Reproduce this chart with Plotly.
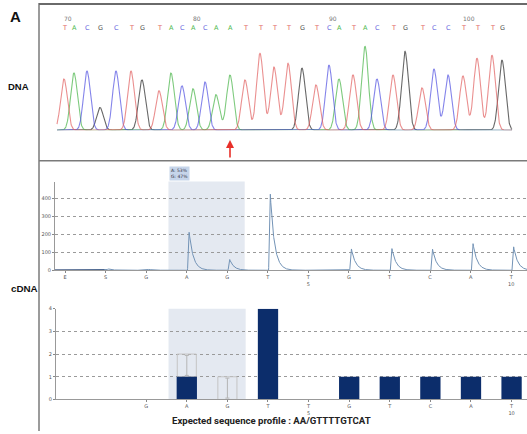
import numpy as np
import plotly.graph_objects as go

W, H = 527, 434

# ---------------- DNA chromatogram (Sanger) ----------------
bases = list("TACGCTGTACACAATTTTGTCATACTGTCCTTTG")
peak_scan = [64, 74, 87, 100, 116, 131, 142, 159, 171, 182, 193, 205, 216, 230,
             245, 260, 274, 288, 302, 316, 329, 339, 353, 365, 377, 393, 405, 422,
             434, 448, 463, 477, 492, 502]
peak_height = [52, 58, 60, 23, 60, 60, 51, 40, 58, 45, 42, 49, 36, 56,
               51, 78, 64, 68, 63, 46, 66, 52, 56, 85, 52, 56, 80, 43,
               62, 56, 55, 73, 76, 71]
position_labels = [70, 80, 90, 100]
position_label_index = [0, 10, 20, 30]
mutation_index = 13

base_colors = {"T": "rgba(225,95,95,0.7)", "A": "rgba(70,180,70,0.7)",
               "C": "rgba(80,80,225,0.7)", "G": "rgba(40,40,40,0.7)"}
letter_colors = {"T": "#e06060", "A": "#4cb84c", "C": "#6a6ae0", "G": "#555555"}

# ---------------- Pyrogram ----------------
dispensation = ["E", "S", "G", "A", "G", "T", "T", "G", "T", "C", "A", "T"]
disp_number = ["", "", "", "", "", "", "5", "", "", "", "", "10"]
pyro_signal = [0, 8, 5, 213, 60, 430, 4, 120, 120, 118, 148, 131]
pyro_ticks = [0, 100, 200, 300, 400]
allele_text = ["A: 53%", "G: 47%"]

# ---------------- Histogram (expected profile) ----------------
hist_index = [2, 3, 4, 5, 6, 7, 8, 9, 10, 11]
hist_values = [0, 1, 0, 4, 0, 1, 1, 1, 1, 1]
expected_index = [3, 4]
expected_base = [1, 0]
expected_height = [1, 1]
hist_ticks = [0, 1, 2, 3, 4]
caption = "Expected sequence profile : AA/GTTTTGTCAT"


def py(p):
    return 1 - p / H


def px(p):
    return p / W


fig = go.Figure()

# chromatogram traces
scan = np.linspace(57, 512, 2000)
sigma = 3.4
for b in ["G", "A", "C", "T"]:
    sig = np.zeros_like(scan)
    for pos, h, bb in zip(peak_scan, peak_height, bases):
        if bb == b:
            sig += h * np.exp(-((scan - pos) ** 2) / (2 * sigma ** 2))
    fig.add_trace(go.Scatter(x=scan, y=sig, mode="lines",
                             line=dict(color=base_colors[b], width=1.1),
                             xaxis="x", yaxis="y", hoverinfo="skip"))

annotations = []
for pos, b in zip(peak_scan, bases):
    annotations.append(dict(x=pos, y=py(25), xref="x", yref="paper", text=b,
                            xanchor="center", yanchor="middle",
                            showarrow=False, font=dict(size=6.5, color=letter_colors[b],
                                                        family="DejaVu Sans")))
for lab, idx in zip(position_labels, position_label_index):
    annotations.append(dict(x=peak_scan[idx] - 2, y=py(16), xref="x", yref="paper",
                            text=str(lab), showarrow=False, xanchor="left", yanchor="middle",
                            font=dict(size=6, color="#777", family="DejaVu Sans")))
# red arrow
annotations.append(dict(x=peak_scan[mutation_index], y=py(139), xref="x", yref="paper",
                        ax=0, ay=19, text="", showarrow=True, arrowhead=2,
                        arrowsize=1, arrowwidth=1.6, arrowcolor="#e8302a"))

# pyrogram curve
xs = np.linspace(-0.25, 11.39, 4000)
ys = np.zeros_like(xs)
for i, h in enumerate(pyro_signal):
    d = xs - i - 0.02
    rise = 0.04
    shape = np.where(d < 0, 0, np.where(d < rise, d / rise, np.exp(-(d - rise) / 0.1)))
    ys += h * shape
fig.add_trace(go.Scatter(x=xs, y=ys, mode="lines", line=dict(color="#7393b6", width=1),
                         xaxis="x2", yaxis="y2", hoverinfo="skip"))
fig.add_trace(go.Scatter(x=[-0.25, 0.97], y=[0, 0], mode="lines",
                         line=dict(color="#1d3566", width=1.6),
                         xaxis="x2", yaxis="y2", hoverinfo="skip"))

# histogram
fig.add_trace(go.Bar(x=expected_index, y=expected_height, base=expected_base, width=0.47,
                     marker=dict(color="rgba(0,0,0,0)", line=dict(color="#c4c4c4", width=1)),
                     xaxis="x3", yaxis="y3", hoverinfo="skip"))
fig.add_trace(go.Bar(x=hist_index, y=hist_values, width=0.5,
                     marker=dict(color="#0c2d6b", line=dict(width=0)),
                     xaxis="x3", yaxis="y3", hoverinfo="skip"))
fig.add_trace(go.Scatter(x=expected_index, y=[b + 0.5 for b in expected_base], mode="markers",
                         marker=dict(size=0.1, color="rgba(0,0,0,0)"),
                         error_y=dict(type="data", array=[0.44, 0.44], color="#b5b5b5",
                                      thickness=1, width=2),
                         xaxis="x3", yaxis="y3", hoverinfo="skip"))

tickfont = dict(size=5, color="#555", family="DejaVu Sans")

# shading + allele label
shapes = [
    dict(type="rect", xref="x2", yref="y2 domain", x0=2.55, x1=4.43, y0=0, y1=1.01,
         fillcolor="#e4e9f1", line=dict(width=0), layer="below"),
    dict(type="rect", xref="x3", yref="y3 domain", x0=2.55, x1=4.45, y0=0, y1=1,
         fillcolor="#e4e9f1", line=dict(width=0), layer="below"),
    dict(type="line", xref="paper", yref="paper", x0=px(39), x1=px(39), y0=0, y1=1,
         line=dict(color="#7a7a7a", width=1.5)),
    dict(type="line", xref="paper", yref="paper", x0=px(39), x1=1, y0=py(1), y1=py(1),
         line=dict(color="#6a6a6a", width=2)),
    dict(type="line", xref="paper", yref="paper", x0=px(39), x1=1, y0=py(160), y1=py(160),
         line=dict(color="#7a7a7a", width=1.5)),
]
annotations.append(dict(x=2.57, y=py(180), xref="x2", yref="paper", xanchor="left",
                        yanchor="bottom", text="<br>".join(allele_text), align="left",
                        showarrow=False, bgcolor="#c6d5ea", borderpad=1,
                        font=dict(size=4.5, color="#334", family="DejaVu Sans")))

# side labels + caption
annotations += [
    dict(x=px(15), y=py(14), xref="paper", yref="paper", text="<b>A</b>", showarrow=False,
         xanchor="center", yanchor="middle",
         font=dict(size=15, color="#111", family="Liberation Sans")),
    dict(x=px(18.5), y=py(85), xref="paper", yref="paper", text="<b>DNA</b>", showarrow=False,
         xanchor="center", yanchor="middle",
         font=dict(size=9.5, color="#111", family="Liberation Sans")),
    dict(x=px(24.5), y=py(289), xref="paper", yref="paper", text="<b>cDNA</b>", showarrow=False,
         xanchor="center", yanchor="middle",
         font=dict(size=9.8, color="#111", family="Liberation Sans")),
    dict(x=px(271), y=py(423), xref="paper", yref="paper", text="<b>" + caption + "</b>",
         showarrow=False, xanchor="center", yanchor="middle",
         font=dict(size=9.6, color="#222", family="Liberation Sans Narrow, Roboto")),
]

pyro_ticktext = [d + ("<br>" + n if n else "") for d, n in zip(dispensation, disp_number)]
hist_ticktext = [pyro_ticktext[i] for i in hist_index]

fig.update_layout(
    width=W, height=H, margin=dict(l=0, r=0, t=0, b=0),
    paper_bgcolor="white", plot_bgcolor="rgba(0,0,0,0)", showlegend=False,
    barmode="overlay",
    xaxis=dict(domain=[0, 1], range=[0, W], visible=False, fixedrange=True),
    yaxis=dict(domain=[py(129), py(29)], range=[0, 100], visible=False),
    xaxis2=dict(domain=[px(55), 1], range=[-0.247, 11.39], anchor="y2",
                tickvals=list(range(len(dispensation))), ticktext=pyro_ticktext,
                tickfont=tickfont, ticks="outside", ticklen=2, tickcolor="#888",
                showline=True, linecolor="#999", linewidth=1, showgrid=False, zeroline=False),
    yaxis2=dict(domain=[py(271), py(182)], range=[0, 486], anchor="x2",
                tickvals=pyro_ticks, tickfont=tickfont, ticks="outside", ticklen=2,
                tickcolor="#888", showline=True, linecolor="#999", linewidth=1,
                showgrid=True, gridcolor="#9a9a9a", griddash="dot", gridwidth=0.8,
                zeroline=False),
    xaxis3=dict(domain=[px(56), 1], range=[-0.222, 11.38], anchor="y3",
                tickvals=hist_index, ticktext=hist_ticktext,
                tickfont=tickfont, ticks="outside", ticklen=2, tickcolor="#888",
                showline=True, linecolor="#999", linewidth=1, showgrid=False, zeroline=False),
    yaxis3=dict(domain=[py(402), py(310)], range=[0, 4], anchor="x3",
                tickvals=hist_ticks, tickfont=tickfont, ticks="outside", ticklen=2,
                tickcolor="#888", showline=True, linecolor="#999", linewidth=1,
                showgrid=True, gridcolor="#9a9a9a", griddash="dot", gridwidth=0.8,
                zeroline=False),
    shapes=shapes, annotations=annotations,
)

fig.write_html("out.html", config={"displayModeBar": False},
               post_script="document.body.style.margin='0';document.body.style.padding='0';"
                           "document.body.style.overflow='hidden';")
